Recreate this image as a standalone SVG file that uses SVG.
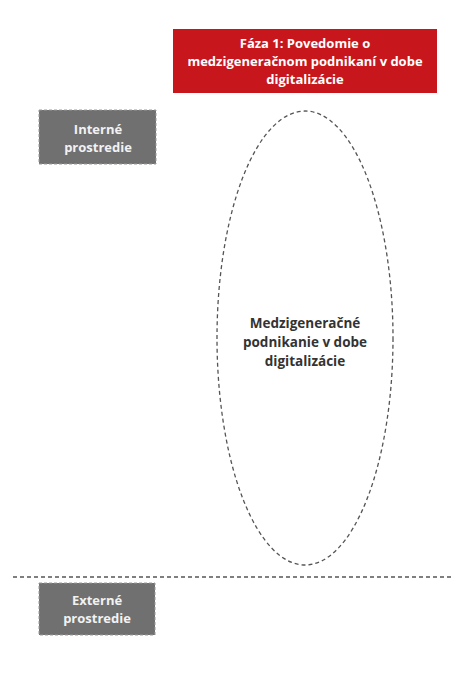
<svg xmlns="http://www.w3.org/2000/svg" width="452" height="685" viewBox="0 0 452 685">
  <style>
    .lbl { font-family: "Open Sans", "Noto Sans", "DejaVu Sans", sans-serif; font-weight: bold; text-anchor: middle; }
    .white { fill: #ffffff; font-size: 13px; }
    .env { fill: #f2f2f2; font-size: 13px; }
    .dark { fill: #333333; font-size: 13.5px; }
    .envbox { fill: #707070; stroke: #9a9a9a; stroke-width: 1; stroke-dasharray: 3 2; }
    .dash { fill: none; stroke: #555555; stroke-width: 1.3; stroke-dasharray: 4 3; }
  </style>
  <rect width="452" height="685" fill="#ffffff"/>

  <g id="phase-title">
    <rect x="173" y="29" width="264" height="64" fill="#c8161d"/>
    <text class="lbl white" x="305" y="48">Fáza 1: Povedomie o</text>
    <text class="lbl white" x="305" y="66">medzigeneračnom podnikaní v dobe</text>
    <text class="lbl white" x="305" y="84">digitalizácie</text>
  </g>

  <g id="internal-env">
    <rect class="envbox" x="39" y="110" width="117" height="54"/>
    <text class="lbl env" x="98" y="134">Interné</text>
    <text class="lbl env" x="98" y="152">prostredie</text>
  </g>

  <g id="core">
    <ellipse class="dash" cx="305" cy="338" rx="88" ry="227"/>
    <text class="lbl dark" x="305" y="328">Medzigeneračné</text>
    <text class="lbl dark" x="305" y="347">podnikanie v dobe</text>
    <text class="lbl dark" x="305" y="366">digitalizácie</text>
  </g>

  <g id="connectors">
    <line class="dash" x1="13" y1="577" x2="452" y2="577"/>
  </g>

  <g id="external-env">
    <rect class="envbox" x="39" y="583" width="116" height="52"/>
    <text class="lbl env" x="97" y="605">Externé</text>
    <text class="lbl env" x="97" y="623">prostredie</text>
  </g>
</svg>
